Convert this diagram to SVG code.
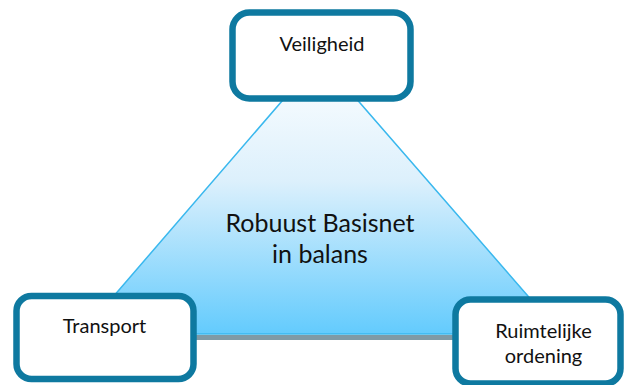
<svg xmlns="http://www.w3.org/2000/svg" width="625" height="385" viewBox="0 0 625 385">
<defs>
<linearGradient id="tri" x1="0" y1="57" x2="0" y2="334" gradientUnits="userSpaceOnUse">
<stop offset="0" stop-color="#ffffff"/>
<stop offset="0.45" stop-color="#dcf0fc"/>
<stop offset="1" stop-color="#63cbfd"/>
</linearGradient>
<style>
.box{fill:#ffffff;stroke:#0e79a0;stroke-width:6.5}
.lbl{font-family:Lato,"Liberation Sans",sans-serif;font-size:20px;fill:#111111;text-anchor:middle}
.big{font-family:Lato,"Liberation Sans",sans-serif;font-size:25px;fill:#111111;text-anchor:middle}
</style>
</defs>
<rect width="625" height="385" fill="#ffffff"/>
<g id="connectors">
<rect x="81" y="335" width="480" height="5" fill="#7f9aa6"/>
<polygon points="320,57 81,334 561,334" fill="url(#tri)" stroke="#3ab8ee" stroke-width="1.5"/>
</g>
<g id="center">
<text class="big" x="320" y="232">Robuust Basisnet</text>
<text class="big" x="320" y="263">in balans</text>
</g>
<g id="veiligheid">
<rect class="box" x="232.5" y="12.5" width="178" height="86" rx="17"/>
<text class="lbl" x="322" y="51">Veiligheid</text>
</g>
<g id="transport">
<rect class="box" x="16.5" y="296" width="177" height="83" rx="15"/>
<text class="lbl" x="104.5" y="333">Transport</text>
</g>
<g id="ruimtelijke">
<rect class="box" x="455.5" y="299.5" width="165" height="84" rx="15"/>
<text class="lbl" x="543.5" y="338">Ruimtelijke</text>
<text class="lbl" x="543.5" y="363">ordening</text>
</g>
</svg>
